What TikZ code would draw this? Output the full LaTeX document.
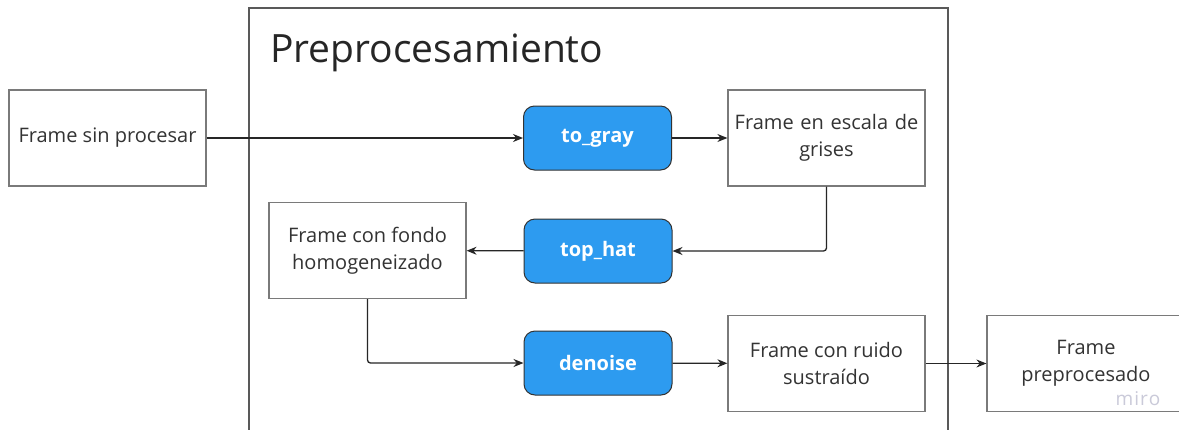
\documentclass[tikz,border=0pt]{standalone}
\usepackage{fontspec}
\setmainfont{Open Sans}
\usetikzlibrary{arrows.meta}
\definecolor{boxblue}{HTML}{2D9BF0}
\definecolor{txt}{HTML}{333333}
\definecolor{edge}{HTML}{7A7A7A}
\definecolor{miroc}{HTML}{CACAD9}
\tikzset{
  framebox/.style={draw=edge, line width=1.2pt, fill=white, text=txt, minimum width=197pt, minimum height=96pt, align=center, font=\fontsize{20}{27}\selectfont, inner sep=3pt},
  opbox/.style={draw=txt, line width=1pt, fill=boxblue, text=white, rounded corners=11pt, minimum width=148pt, minimum height=64pt, font=\fontsize{20}{24}\selectfont\bfseries},
  conn/.style={draw=black!85, line width=1.3pt, rounded corners=3pt, -{Stealth[length=10pt,width=8pt]}}
}
\begin{document}
\begin{tikzpicture}[x=1pt,y=-1pt]
\useasboundingbox (0,0) rectangle (1179,429);
\clip (0,0) rectangle (1179,429);
\fill[white] (0,0) rectangle (1179,429);
\draw[draw=black!65, line width=1.2pt] (249,440) -- (249,8) -- (948,8) -- (948,440);
\node[anchor=base west, text=black!85, font=\fontsize{39}{44}\selectfont, inner sep=0pt] (title) at (270,62) {Preprocesamiento};
\node[framebox] (fsp) at (107.5,138) {Frame sin procesar};
\node[opbox] (tg) at (597.5,138) {to\_gray};
\node[framebox, text width=186pt] (feg) at (826.5,138) {Frame en escala de\\grises};
\node[opbox] (th) at (598,251) {top\_hat};
\node[framebox] (fh) at (367.5,250.5) {Frame con fondo\\homogeneizado};
\node[opbox] (dn) at (598,363) {denoise};
\node[framebox] (fr) at (826.5,363.5) {Frame con ruido\\sustraído};
\node[framebox, minimum width=198pt] (fp) at (1086,363.5) {Frame\\preprocesado};
\node[text=miroc, font=\fontsize{19}{21}\selectfont] (miro) at (1138,399) {m\kern1pt i\kern1pt r\kern1pt o};
\draw[conn] (fsp) -- (tg);
\draw[conn] (tg) -- (feg);
\draw[conn] (feg.south) |- (th.east);
\draw[conn] (th) -- (fh);
\draw[conn] (fh.south) |- (dn.west);
\draw[conn] (dn) -- (fr);
\draw[conn] (fr) -- (fp);
\end{tikzpicture}
\end{document}
